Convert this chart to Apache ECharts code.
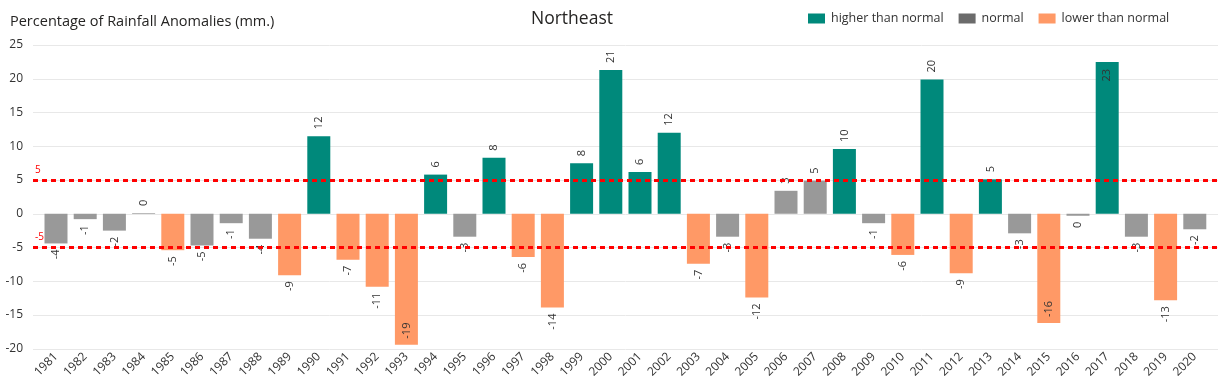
<!DOCTYPE html>
<html>
<head>
<meta charset="utf-8">
<script src="https://cdn.jsdelivr.net/npm/echarts@6/dist/echarts.min.js"></script>
<style>
html,body{margin:0;padding:0;background:#fff;}
#c{width:1224px;height:382px;}
</style>
</head>
<body>
<div id="c"></div>
<script>
// ---- data ----
const years = ['1981','1982','1983','1984','1985','1986','1987','1988','1989','1990',
  '1991','1992','1993','1994','1995','1996','1997','1998','1999','2000',
  '2001','2002','2003','2004','2005','2006','2007','2008','2009','2010',
  '2011','2012','2013','2014','2015','2016','2017','2018','2019','2020'];
const values = [-4.4,-0.8,-2.5,0.1,-5.4,-4.7,-1.4,-3.7,-9.1,11.5,
  -6.8,-10.8,-19.4,5.8,-3.4,8.3,-6.4,-13.9,7.5,21.3,
  6.2,12.0,-7.4,-3.4,-12.4,3.4,4.9,9.6,-1.4,-6.1,
  19.9,-8.8,5.1,-2.9,-16.2,-0.3,22.5,-3.4,-12.8,-2.3];
// H = higher than normal, N = normal, L = lower than normal
const classes = ['N','N','N','N','L','N','N','N','L','H',
  'L','L','L','H','N','H','L','L','H','H',
  'H','H','L','N','L','N','N','H','N','L',
  'H','L','H','N','L','N','H','N','L','N'];
const labelsInside = ['1993','2015','2017'];
const thresholds = [5, -5];
const yTicks = {min:-20, max:25, interval:5};

const seriesDefs = [
  {key:'H', name:'higher than normal', color:'#00897B', legendColor:'#00897B'},
  {key:'N', name:'normal', color:'#999999', legendColor:'#6B6B6B'},
  {key:'L', name:'lower than normal', color:'#FF9966', legendColor:'#FF9966'}
];

function itemFor(i){
  const v = values[i];
  const inside = labelsInside.indexOf(years[i]) >= 0;
  let label;
  if (v >= 0) {
    label = inside ? {position:'insideTop', align:'right', distance:7}
                   : {position:'top', align:'left', distance:7};
  } else {
    label = inside ? {position:'insideBottom', align:'left', distance:6}
                   : {position:'bottom', align:'right', distance:6};
  }
  return {value: v, label: label};
}

const barSeries = seriesDefs.map(d => ({
  name: d.name,
  type: 'bar',
  xAxisIndex: 1,
  yAxisIndex: 1,
  barWidth: 23,
  barGap: '-100%',
  itemStyle: {color: d.color},
  label: {
    show: true,
    rotate: 90,
    verticalAlign: 'middle',
    fontSize: 11,
    color: '#333',
    fontFamily: 'Open Sans',
    formatter: p => String(Math.round(p.value))
  },
  data: values.map((v, i) => classes[i] === d.key ? itemFor(i) : '-')
}));

const chart = echarts.init(document.getElementById('c'), null, {renderer:'canvas'});
chart.setOption({
  animation: false,
  textStyle: {fontFamily: 'Open Sans'},
  title: [
    {text: 'Percentage of Rainfall Anomalies (mm.)', left: 5, top: 9,
     textStyle: {fontSize: 14.5, fontWeight: 'normal', color: '#252423', fontFamily: 'Open Sans'}},
    {text: 'Northeast', left: 526, top: 5,
     textStyle: {fontSize: 17.5, fontWeight: 'normal', color: '#252423', fontFamily: 'Open Sans'}}
  ],
  legend: {
    left: 803, top: 7,
    itemWidth: 17, itemHeight: 10, itemGap: 15,
    icon: 'rect',
    textStyle: {fontSize: 12.5, color: '#333', fontFamily: 'Open Sans', padding: [0,0,0,1]},
    data: seriesDefs.map(d => ({name: d.name, itemStyle: {color: d.legendColor}}))
  },
  grid: [
    {left: 33, right: 6, top: 45, bottom: 33.25},
    {left: 41.4, right: 14.6, top: 45, bottom: 33.25}
  ],
  xAxis: [
    {type: 'value', gridIndex: 0, min: 0, max: 1, show: false},
    {type: 'category', gridIndex: 1, data: years,
     axisLine: {show: false}, axisTick: {show: false},
     axisLabel: {rotate: 45, fontSize: 12, color: '#333', margin: 6, interval: 0, fontFamily: 'Open Sans'}}
  ],
  yAxis: [
    {type: 'value', gridIndex: 0, min: yTicks.min, max: yTicks.max, interval: yTicks.interval,
     axisLine: {show: false}, axisTick: {show: false},
     axisLabel: {fontSize: 12, color: '#333', margin: 10, fontFamily: 'Open Sans'},
     splitLine: {lineStyle: {color: '#E8E8E8', width: 1}}},
    {type: 'value', gridIndex: 1, min: yTicks.min, max: yTicks.max, interval: yTicks.interval,
     show: false, splitLine: {show: false}}
  ],
  series: [
    ...barSeries,
    {
      type: 'line', xAxisIndex: 0, yAxisIndex: 0, data: [], silent: true,
      markLine: {
        symbol: 'none',
        silent: true,
        lineStyle: {color: '#FF0000', type: [5, 4], width: 3},
        label: {position: 'insideStartTop', color: '#FF0000', fontSize: 10, distance: [2, 5],
                formatter: p => String(p.value)},
        data: thresholds.map(t => ({yAxis: t}))
      }
    }
  ]
});
</script>
</body>
</html>
